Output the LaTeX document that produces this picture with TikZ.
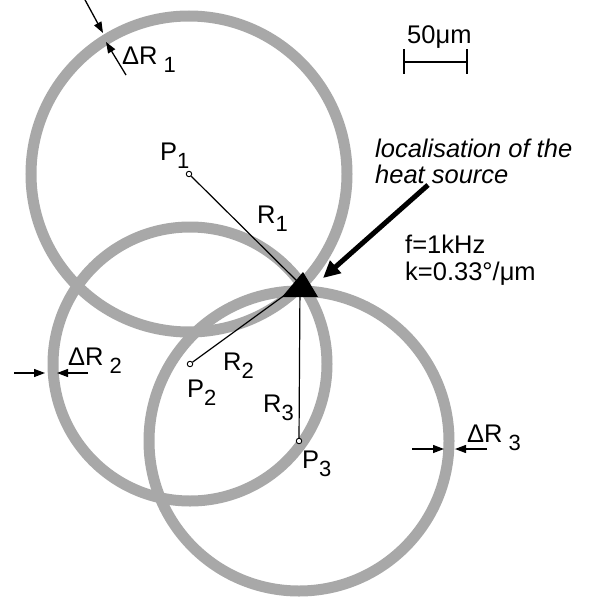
\documentclass[tikz,border=0pt]{standalone}
\usepackage{fontspec}
\setmainfont{Liberation Sans}
\usetikzlibrary{arrows.meta,backgrounds}
\definecolor{ringgray}{gray}{0.66}
\newcommand\lowr[1]{\raisebox{-8pt}{\fontsize{22}{22}\selectfont #1}}
\begin{document}
\begin{tikzpicture}[x=1pt,y=-1pt,
  ring/.style={draw=ringgray,line width=11pt},
  lbl/.style={font=\fontsize{25.5}{30}\selectfont,inner sep=0pt,anchor=base west},
  ilbl/.style={lbl,font=\fontsize{25.5}{30}\selectfont\itshape},
  pt/.style={circle,draw,fill=white,line width=0.9pt,minimum size=5.5pt,inner sep=0pt},
  radius line/.style={line width=1.2pt},
  dr/.style={line width=1.3pt,-{Triangle[length=11pt,width=8pt]}},
  big/.style={line width=5pt,-{Triangle[length=17pt,width=16pt]}}]
\useasboundingbox (0,0) rectangle (591,599);

% centres
\node[pt] (p1) at (189,174) {};
\node[pt] (p2) at (190,364) {};
\node[pt] (p3) at (299,441) {};
\coordinate (H) at (300,284);

% rings
\begin{scope}[on background layer]
  \fill[white] (0,0) rectangle (591,599);
  \draw[ring] (p1.center) circle[radius=158pt];
  \draw[ring] (p2.center) circle[radius=137pt];
  \draw[ring] (p3.center) circle[radius=150pt];
  \draw[radius line] (p1) -- (H);
  \draw[radius line] (p2) -- (H);
  \draw[radius line] (p3) -- (H);
\end{scope}

% heat source
\fill[black] (303,272) -- (282,297) -- (318,297) -- cycle;

% labels
\node[lbl] (lP1) at (160,160) {P\lowr{1}};
\node[lbl] (lP2) at (187,397) {P\lowr{2}};
\node[lbl] (lP3) at (302,468) {P\lowr{3}};
\node[lbl] (lR1) at (257,223) {R\lowr{1}};
\node[lbl] (lR2) at (223,370) {R\lowr{2}};
\node[lbl] (lR3) at (263,412) {R\lowr{3}};

% delta R annotations
\coordinate (a1s) at (84,-2);  \coordinate (a1t) at (103,33);
\coordinate (b1s) at (126,75); \coordinate (b1t) at (106,42);
\draw[dr] (a1s) -- (a1t);
\draw[dr] (b1s) -- (b1t);
\node[lbl] (dR1) at (122,65) {ΔR\hspace{6pt}\lowr{1}};

\coordinate (a2s) at (14,373); \coordinate (a2t) at (45,373);
\coordinate (b2s) at (88,373); \coordinate (b2t) at (57,373);
\draw[dr] (a2s) -- (a2t);
\draw[dr] (b2s) -- (b2t);
\node[lbl] (dR2) at (68,365) {ΔR\hspace{6pt}\lowr{2}};

\coordinate (a3s) at (412,449); \coordinate (a3t) at (444,449);
\coordinate (b3s) at (487,449); \coordinate (b3t) at (455,449);
\draw[dr] (a3s) -- (a3t);
\draw[dr] (b3s) -- (b3t);
\node[lbl] (dR3) at (467,442) {ΔR\hspace{6pt}\lowr{3}};

% scale bar
\node[lbl] (scale) at (407,44) {50μm};
\coordinate (sbl) at (404,62); \coordinate (sbr) at (467,62);
\draw[line width=1.2pt] (sbl) -- (sbr);
\draw[line width=1.2pt] ([yshift=-12pt]sbl) -- ([yshift=13pt]sbl);
\draw[line width=1.2pt] ([yshift=-12pt]sbr) -- ([yshift=13pt]sbr);

% localisation text and arrow
\node[ilbl] (loc1) at (375,157) {localisation of the};
\node[ilbl] (loc2) at (375,183) {heat source};
\coordinate (arrS) at (428,185);
\coordinate (arrT) at (323,278);
\draw[big] (arrS) -- (arrT);

% parameters
\node[lbl] (f) at (405,253) {f=1kHz};
\node[lbl] (k) at (405,280) {k=0.33°/μm};
\end{tikzpicture}
\end{document}
